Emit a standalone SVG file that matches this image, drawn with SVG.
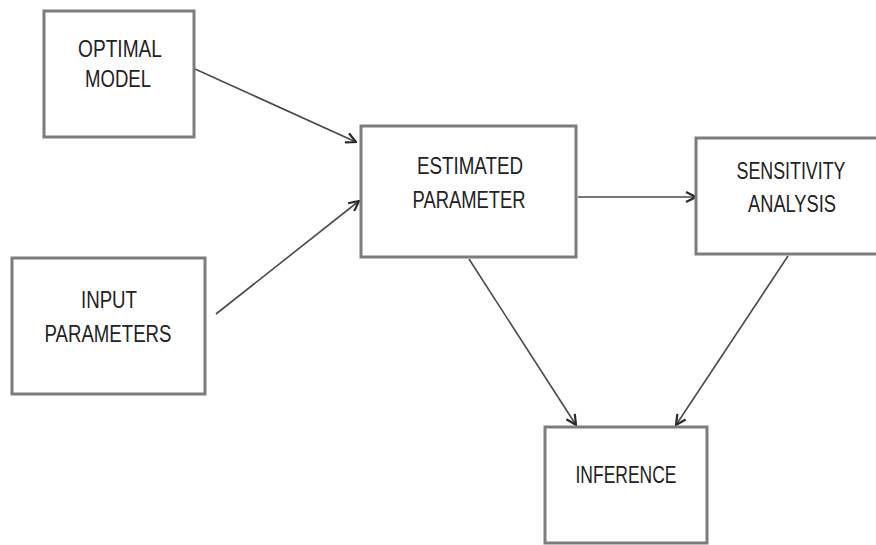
<svg xmlns="http://www.w3.org/2000/svg" width="876" height="545" viewBox="0 0 876 545">
  <style>
    .box { fill: #ffffff; stroke: #7c7c7c; stroke-width: 3; }
    .lbl { font-family: "Liberation Sans", Arial, sans-serif; font-size: 23px; fill: #222222; text-anchor: middle; }
    .edge { stroke: #4a4a4a; stroke-width: 1.6; fill: none; marker-end: url(#arrow); }
  </style>
  <defs>
    <marker id="arrow" viewBox="0 0 12 12" refX="11" refY="6" markerWidth="12" markerHeight="12" markerUnits="userSpaceOnUse" orient="auto">
      <path d="M1,1 L11,6 L1,11" fill="none" stroke="#2a2a2a" stroke-width="2.2"/>
    </marker>
  </defs>
  <rect width="876" height="545" fill="#ffffff"/>

  <g id="connectors">
    <line class="edge" x1="195" y1="69" x2="356" y2="142"/>
    <line class="edge" x1="216" y1="314" x2="359" y2="201"/>
    <line class="edge" x1="578" y1="197" x2="696" y2="197"/>
    <line class="edge" x1="469" y1="259" x2="576" y2="425"/>
    <line class="edge" x1="788" y1="256" x2="676" y2="425"/>
  </g>

  <g id="optimal-model">
    <rect class="box" x="44" y="11" width="150" height="126"/>
    <text class="lbl" x="120" y="57" textLength="84" lengthAdjust="spacingAndGlyphs">OPTIMAL</text>
    <text class="lbl" x="118" y="87" textLength="66" lengthAdjust="spacingAndGlyphs">MODEL</text>
  </g>

  <g id="input-parameters">
    <rect class="box" x="12" y="258" width="193" height="136"/>
    <text class="lbl" x="109" y="308" textLength="56" lengthAdjust="spacingAndGlyphs">INPUT</text>
    <text class="lbl" x="108" y="342" textLength="127" lengthAdjust="spacingAndGlyphs">PARAMETERS</text>
  </g>

  <g id="estimated-parameter">
    <rect class="box" x="361" y="126" width="215" height="131"/>
    <text class="lbl" x="470" y="174" textLength="106" lengthAdjust="spacingAndGlyphs">ESTIMATED</text>
    <text class="lbl" x="469" y="208" textLength="113" lengthAdjust="spacingAndGlyphs">PARAMETER</text>
  </g>

  <g id="sensitivity-analysis">
    <rect class="box" x="696" y="138" width="184" height="116"/>
    <text class="lbl" x="791" y="179" textLength="109" lengthAdjust="spacingAndGlyphs">SENSITIVITY</text>
    <text class="lbl" x="792" y="212" textLength="88" lengthAdjust="spacingAndGlyphs">ANALYSIS</text>
  </g>

  <g id="inference">
    <rect class="box" x="545" y="427" width="162" height="116"/>
    <text class="lbl" x="626" y="483" textLength="101" lengthAdjust="spacingAndGlyphs">INFERENCE</text>
  </g>
</svg>
